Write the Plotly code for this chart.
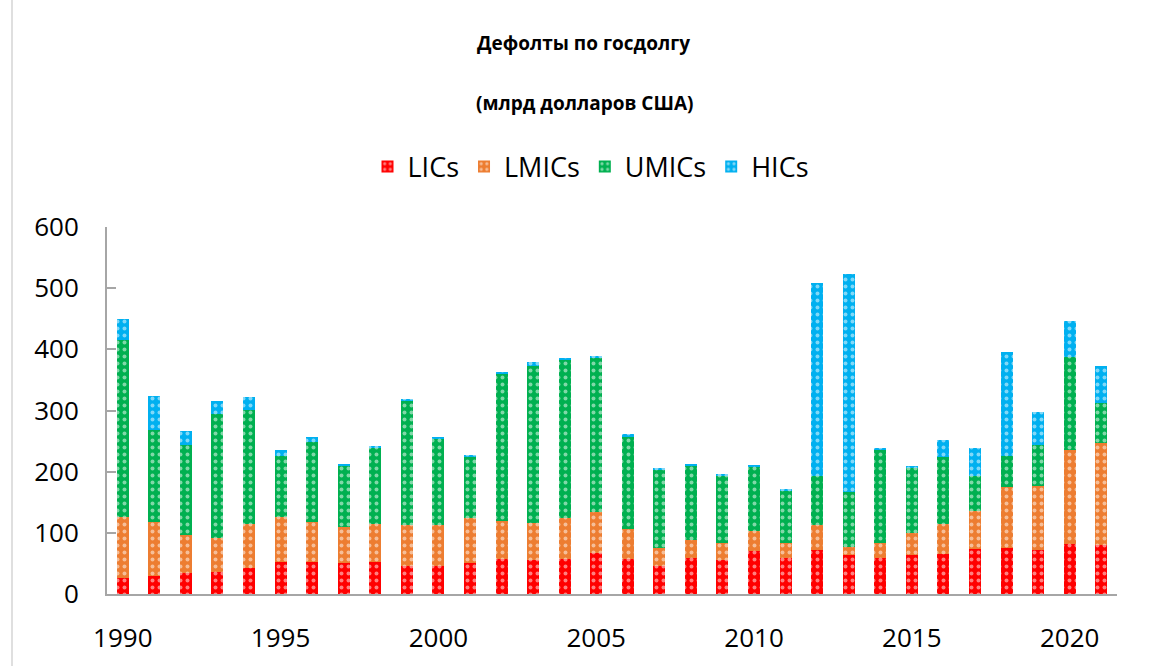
import plotly.graph_objects as go

years = list(range(1990, 2022))
lics  = [26, 29, 34, 36, 43, 53, 53, 51, 53, 46, 46, 51, 57, 56, 57, 67, 57, 46, 59, 56, 70, 59, 72, 64, 59, 64, 65, 74, 76, 72, 82, 80]
lmics = [100, 89, 63, 56, 71, 73, 65, 59, 62, 66, 66, 73, 62, 60, 67, 67, 49, 30, 29, 28, 33, 25, 40, 13, 25, 35, 50, 61, 99, 105, 154, 167]
umics = [290, 150, 147, 203, 187, 99, 130, 100, 125, 204, 142, 101, 242, 257, 260, 253, 152, 128, 122, 110, 105, 86, 81, 89, 153, 108, 109, 58, 50, 67, 152, 65]
hics  = [34, 56, 23, 20, 21, 10, 9, 2, 2, 2, 2, 2, 2, 7, 2, 2, 3, 2, 2, 2, 2, 2, 315, 357, 2, 3, 28, 46, 170, 54, 59, 60]

series_names = ["LICs", "LMICs", "UMICs", "HICs"]
series_vals = [lics, lmics, umics, hics]
colors = ["#FF0000", "#ED7D31", "#00B050", "#00B0F0"]

FONT = "Open Sans"
W, H = 1166, 666
L, R, T, B = 107, 49, 227, 72
pw, ph = W - L - R, H - T - B

def px_x(x):
    return (x - L) / pw

def px_y(y):
    return (H - B - y) / ph

fig = go.Figure()
for name, vals, col in zip(series_names, series_vals, colors):
    fig.add_trace(go.Bar(
        x=years, y=vals, name=name, width=0.38,
        marker=dict(color=col, line=dict(width=0),
                    pattern=dict(shape=".", fgcolor="white", bgcolor=col, size=7, solidity=0.25)),
    ))

fig.update_layout(
    barmode="stack",
    width=W, height=H,
    paper_bgcolor="white", plot_bgcolor="white",
    margin=dict(l=L, r=R, t=T, b=B),
    font=dict(family=FONT, color="#000000"),
    showlegend=True,
    legend=dict(orientation="h", x=px_x(591), xanchor="center", y=px_y(167), yanchor="middle",
                font=dict(size=27, family=FONT), traceorder="normal",
                bgcolor="rgba(0,0,0,0)"),
    annotations=[
        dict(text="<b>Дефолты по госдолгу</b>", x=px_x(583), y=px_y(43), xref="paper", yref="paper",
             xanchor="center", yanchor="middle", showarrow=False, font=dict(size=19, family=FONT)),
        dict(text="<b>(млрд долларов США)</b>", x=px_x(585), y=px_y(103), xref="paper", yref="paper",
             xanchor="center", yanchor="middle", showarrow=False, font=dict(size=19, family=FONT)),
    ],
)

fig.update_xaxes(range=[1989.5, 2021.5], tickmode="linear", tick0=1990, dtick=5,
                 showline=True, linecolor="#A6A6A6", linewidth=2, showgrid=False,
                 ticks="", tickfont=dict(size=26, family=FONT), ticklabelstandoff=20,
                 zeroline=False)
fig.update_yaxes(range=[0, 600], tickmode="linear", tick0=0, dtick=100,
                 showline=True, linecolor="#A6A6A6", linewidth=2, showgrid=False,
                 ticks="inside", ticklen=9, tickcolor="#A6A6A6", tickwidth=2,
                 tickfont=dict(size=26, family=FONT), ticklabelstandoff=21,
                 zeroline=False)

fig.add_shape(type="line", xref="paper", yref="paper",
              x0=px_x(12), x1=px_x(12), y0=px_y(H), y1=px_y(0),
              line=dict(color="#BFBFBF", width=1))

fig.write_html("out.html", config={"displayModeBar": False},
               post_script="document.body.style.margin='0';document.body.style.overflow='hidden';")
